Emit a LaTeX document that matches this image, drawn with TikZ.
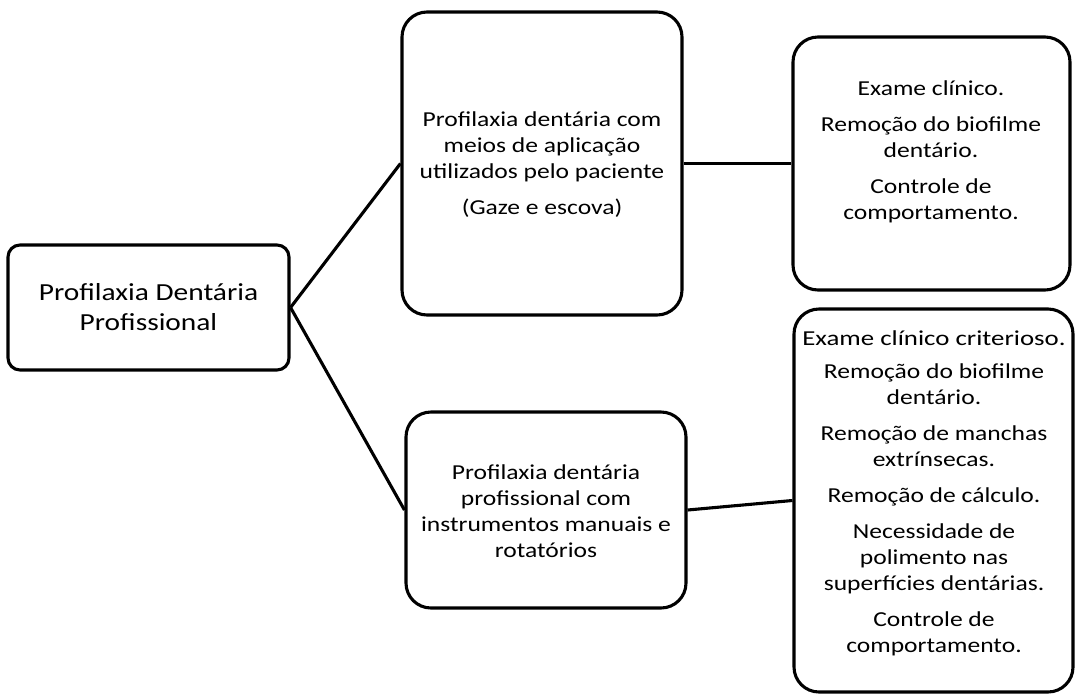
\documentclass[tikz,border=0pt]{standalone}
\usepackage{fontspec}
\setmainfont{Carlito}[FakeStretch=1.2]
\begin{document}
\begin{tikzpicture}[x=1pt,y=-1pt,
  box/.style={draw=black, line width=3.1pt, rounded corners=25pt, inner sep=0pt},
  conn/.style={draw=black, line width=3.1pt},
  txt/.style={align=center, font=\fontsize{21.3}{26}\selectfont, inner sep=0pt}]
\useasboundingbox (0,0) rectangle (1078,697);
\node[box, rounded corners=12pt, minimum width=281pt, minimum height=125pt, align=center,
      font=\fontsize{24.5}{30}\selectfont] (a) at (148.5,307.5) {Profilaxia Dentária\\Profissional};
\node[box, minimum width=280pt, minimum height=303pt] (b) at (542,163.5) {};
\node[box, minimum width=280pt, minimum height=196pt] (c) at (546,510) {};
\node[box, minimum width=277pt, minimum height=253pt] (d) at (931.5,163.5) {};
\node[box, minimum width=279pt, minimum height=383pt] (e) at (933.5,500.5) {};
\node[txt] (bt) at (542,165) {Profilaxia dentária com\\meios de aplicação\\utilizados pelo paciente\\[10pt](Gaze e escova)};
\node[txt] (ct) at (546,511) {Profilaxia dentária\\profissional com\\instrumentos manuais e\\rotatórios};
\node[txt] (dt) at (931,152) {Exame clínico.\\[10pt]Remoção do biofilme\\dentário.\\[10pt]Controle de\\comportamento.};
\node[txt] (et) at (934,493) {\scalebox{1.05}[1]{Exame clínico criterioso.}\\[7pt]Remoção do biofilme\\dentário.\\[10pt]Remoção de manchas\\extrínsecas.\\[10pt]Remoção de cálculo.\\[10pt]Necessidade de\\polimento nas\\superfícies dentárias.\\[10pt]Controle de\\comportamento.};
\draw[conn] (a.east) -- (b.west);
\draw[conn] (a.east) -- (c.west);
\draw[conn] (b.east) -- (d.west);
\draw[conn] (c.east) -- (e.west);
\end{tikzpicture}
\end{document}
